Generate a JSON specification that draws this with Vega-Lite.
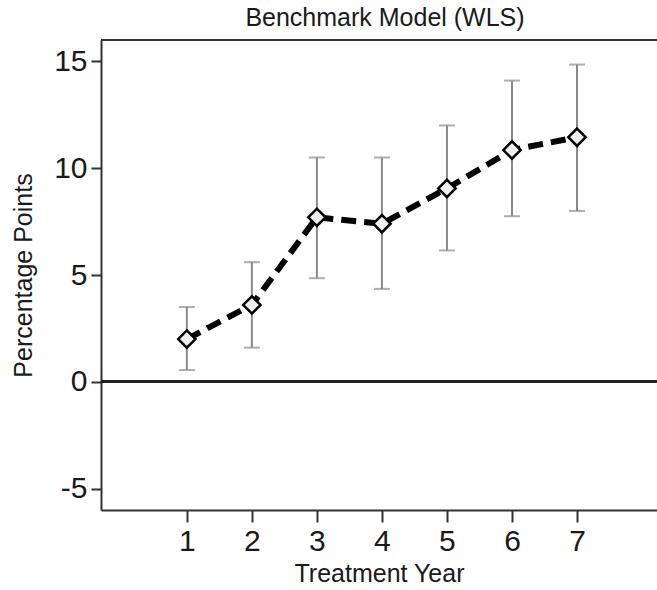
{
  "$schema": "https://vega.github.io/schema/vega-lite/v6.json",
  "autosize": {"type": "none"},
  "padding": {"left": 101, "top": 40, "right": 0, "bottom": 80},
  "width": 556,
  "height": 470,
  "background": "white",
  "config": {
    "view": {"stroke": null},
    "font": "Liberation Sans",
    "axis": {"grid": false, "labelFont": "Liberation Sans", "titleFont": "Liberation Sans", "labelColor": "#1a1a1a", "titleColor": "#1a1a1a", "titleFontWeight": "normal", "domainColor": "#333", "domainWidth": 2, "tickColor": "#333", "tickWidth": 2}
  },
  "title": {"text": "Benchmark Model (WLS)", "fontSize": 25, "font": "Liberation Sans", "fontWeight": "normal", "color": "#1a1a1a", "offset": 8, "dx": 6},
  "data": {
    "values": [
      {"year": 1, "est": 2.0, "lo": 0.55, "hi": 3.5},
      {"year": 2, "est": 3.6, "lo": 1.6, "hi": 5.6},
      {"year": 3, "est": 7.7, "lo": 4.85, "hi": 10.5},
      {"year": 4, "est": 7.4, "lo": 4.35, "hi": 10.5},
      {"year": 5, "est": 9.05, "lo": 6.15, "hi": 12.0},
      {"year": 6, "est": 10.85, "lo": 7.75, "hi": 14.1},
      {"year": 7, "est": 11.45, "lo": 8.0, "hi": 14.85}
    ]
  },
  "layer": [
    {
      "mark": {"type": "rule", "color": "#222", "strokeWidth": 2.5},
      "encoding": {"y": {"datum": 0, "type": "quantitative", "scale": {"domain": [-6, 16], "nice": false, "zero": false}, "title": "Percentage Points"}}
    },
    {
      "mark": {"type": "rule", "color": "#333", "strokeWidth": 2},
      "encoding": {"y": {"datum": 16, "type": "quantitative", "scale": {"domain": [-6, 16], "nice": false, "zero": false}, "title": "Percentage Points"}}
    },
    {
      "mark": {"type": "rule", "color": "#8a8a8a", "strokeWidth": 2},
      "encoding": {
        "x": {"field": "year", "type": "quantitative", "scale": {"domain": [-0.32, 8.23], "nice": false, "zero": false},
          "axis": {"values": [1, 2, 3, 4, 5, 6, 7], "labelFontSize": 30, "tickSize": 12, "labelPadding": 4, "titleFontSize": 25, "titlePadding": 5, "format": "d"},
          "title": "Treatment Year"},
        "y": {"field": "lo", "type": "quantitative", "scale": {"domain": [-6, 16], "nice": false, "zero": false},
          "axis": {"values": [-5, 0, 5, 10, 15], "labelFontSize": 30, "tickSize": 10, "labelPadding": 4, "titleFontSize": 25, "titlePadding": 17, "labelExpr": "datum.value < 0 ? '-' + abs(datum.value) : datum.label"},
          "title": "Percentage Points"},
        "y2": {"field": "hi"}
      }
    },
    {
      "mark": {"type": "tick", "orient": "horizontal", "color": "#8a8a8a", "size": 16, "thickness": 2},
      "encoding": {
        "x": {"field": "year", "type": "quantitative", "scale": {"domain": [-0.32, 8.23], "nice": false, "zero": false}, "title": "Treatment Year"},
        "y": {"field": "lo", "type": "quantitative", "scale": {"domain": [-6, 16], "nice": false, "zero": false}, "title": "Percentage Points"}
      }
    },
    {
      "mark": {"type": "tick", "orient": "horizontal", "color": "#8a8a8a", "size": 16, "thickness": 2},
      "encoding": {
        "x": {"field": "year", "type": "quantitative", "scale": {"domain": [-0.32, 8.23], "nice": false, "zero": false}, "title": "Treatment Year"},
        "y": {"field": "hi", "type": "quantitative", "scale": {"domain": [-6, 16], "nice": false, "zero": false}, "title": "Percentage Points"}
      }
    },
    {
      "mark": {"type": "line", "color": "#000", "strokeWidth": 6, "strokeDash": [15, 8]},
      "encoding": {
        "x": {"field": "year", "type": "quantitative", "scale": {"domain": [-0.32, 8.23], "nice": false, "zero": false}, "title": "Treatment Year"},
        "y": {"field": "est", "type": "quantitative", "scale": {"domain": [-6, 16], "nice": false, "zero": false}, "title": "Percentage Points"}
      }
    },
    {
      "mark": {"type": "point", "shape": "diamond", "size": 300, "filled": true, "fill": "#eeeeee", "stroke": "#000", "strokeWidth": 2.5, "opacity": 1},
      "encoding": {
        "x": {"field": "year", "type": "quantitative", "scale": {"domain": [-0.32, 8.23], "nice": false, "zero": false}, "title": "Treatment Year"},
        "y": {"field": "est", "type": "quantitative", "scale": {"domain": [-6, 16], "nice": false, "zero": false}, "title": "Percentage Points"}
      }
    }
  ]
}
